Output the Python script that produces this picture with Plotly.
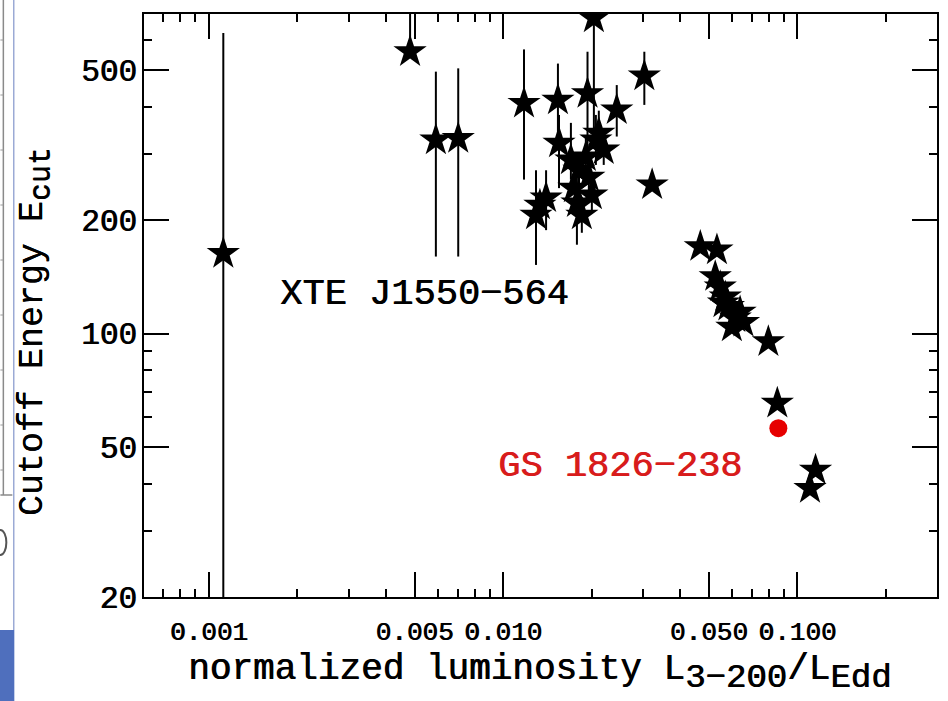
import numpy as np
import plotly.graph_objects as go

# Normalized luminosity L(3-200)/L_Edd and cutoff energy (keV), XTE J1550-564
lum = [0.00112, 0.00483, 0.00591, 0.00704, 0.01178, 0.01536, 0.01549, 0.01936,
       0.02035, 0.02434, 0.0302, 0.0321, 0.01294, 0.0140, 0.01334, 0.0170,
       0.01811, 0.01911, 0.02067, 0.02115, 0.01956, 0.01782, 0.0174, 0.01852,
       0.02198, 0.02003, 0.0468, 0.0533, 0.0526, 0.0547, 0.0569, 0.0583,
       0.0615, 0.0599, 0.0639, 0.0561, 0.0656, 0.0797, 0.0855, 0.1153, 0.1104]
ecut = [163, 559, 326, 329, 408, 416, 320, 433,
        687, 392, 482, 248, 206, 229, 219, 288.5,
        271, 294, 326, 340, 260, 222, 243, 206,
        307, 233, 170, 166.5, 141.5, 133, 125, 118,
        110, 104, 114, 120.5, 107, 95.1, 65.3, 43.4, 38.8]
# upper / lower ends of the error bars (keV)
ecut_hi = [627, 900, 495, 505, 567, 520, 380, 559,
           900, 456, 559, 248, 271, 271, 219, 362,
           300, 330, 380, 390, 290, 260, 243, 230,
           340, 260, 170, 166.5, 141.5, 133, 125, 118,
           110, 104, 114, 120.5, 107, 95.1, 65.3, 43.4, 38.8]
ecut_lo = [5, 559, 160, 160, 256, 330, 243, 280,
           320, 333, 404, 248, 152, 188, 219, 256,
           240, 260, 280, 300, 230, 172, 243, 185,
           280, 210, 170, 166.5, 141.5, 133, 125, 118,
           110, 104, 114, 120.5, 107, 95.1, 65.3, 43.4, 38.8]

# GS 1826-238
gs_lum = [0.0862]
gs_ecut = [56.1]

x_major = [0.001, 0.005, 0.01, 0.05, 0.1]
x_major_text = ["0.001", "0.005", "0.010", "0.050", "0.100"]
x_minor = [0.0007, 0.0008, 0.0009, 0.002, 0.003, 0.004, 0.006, 0.007, 0.008,
           0.009, 0.02, 0.03, 0.04, 0.06, 0.07, 0.08, 0.09, 0.2]
y_major = [20, 50, 100, 200, 500]
y_major_text = ["20", "50", "100", "200", "500"]
y_minor = [30, 40, 60, 70, 80, 90, 300, 400, 600]

FONT = "Liberation Mono"
# a slight horizontal shadow gives the strokes a heavier, plotter-like look
THICK_BLACK = "0.8px 0 0 black"
THICK_RED = "0.8px 0 0 #d81c1c"

err_plus = [h - v for h, v in zip(ecut_hi, ecut)]
err_minus = [v - l for v, l in zip(ecut, ecut_lo)]

fig = go.Figure()
fig.add_trace(go.Scatter(
    x=lum, y=ecut, mode="markers",
    marker=dict(symbol="star", size=25, color="black", line=dict(width=0)),
    error_y=dict(type="data", array=err_plus, arrayminus=err_minus,
                 symmetric=False, thickness=2, width=0, color="black"),
    showlegend=False,
))
fig.add_trace(go.Scatter(
    x=gs_lum, y=gs_ecut, mode="markers",
    marker=dict(symbol="circle", size=18, color="#e60000", line=dict(width=0)),
    showlegend=False,
))

axis_common = dict(
    type="log", showgrid=False, zeroline=False,
    showline=True, linecolor="black", linewidth=2, mirror="ticks",
    ticks="inside", ticklen=25, tickwidth=2, tickcolor="black",
)
fig.update_xaxes(
    **axis_common,
    range=[-3.2203, -0.5254],
    tickmode="array", tickvals=x_major, ticktext=x_major_text,
    tickfont=dict(family=FONT, size=26, color="black", shadow=THICK_BLACK),
    minor=dict(tickvals=x_minor, ticks="inside", ticklen=8, tickwidth=2,
               tickcolor="black", showgrid=False),
    ticklabelstandoff=10,
)
fig.update_yaxes(
    **axis_common,
    range=[np.log10(20), 2.8475],
    tickmode="array", tickvals=y_major, ticktext=y_major_text,
    tickfont=dict(family=FONT, size=31, color="black", shadow=THICK_BLACK),
    minor=dict(tickvals=y_minor, ticks="inside", ticklen=8, tickwidth=2,
               tickcolor="black", showgrid=False),
    ticklabelstandoff=-1,
)


def sub(s, size):
    return '<sub><span style="font-size:%dpx">%s</span></sub>' % (size, s)


annotations = [
    dict(x=np.log10(0.001714), y=np.log10(127.3), xref="x", yref="y",
         text="XTE J1550\u2212564", showarrow=False, xanchor="left", yanchor="middle",
         font=dict(family=FONT, size=37, color="black", shadow=THICK_BLACK)),
    dict(x=np.log10(0.00947), y=np.log10(44.5), xref="x", yref="y",
         text="GS 1826\u2212238", showarrow=False, xanchor="left", yanchor="middle",
         font=dict(family=FONT, size=37, color="#d81c1c", shadow=THICK_RED)),
    dict(x=0.4985, y=-0.13, xref="paper", yref="paper",
         text="normalized luminosity L" + sub("3\u2212200", 34) + "/L" + sub("Edd", 34),
         showarrow=False, xanchor="center", yanchor="middle",
         font=dict(family=FONT, size=36, color="black", shadow=THICK_BLACK)),
    dict(x=-0.137, y=0.455, xref="paper", yref="paper",
         text="Cutoff Energy E" + sub("cut", 30), textangle=-90,
         showarrow=False, xanchor="center", yanchor="middle",
         font=dict(family=FONT, size=35, color="black", shadow="0 0.8px 0 black")),
]


# strip of the neighbouring panel along the left edge
def px_x(p):
    return (p - 144) / 795.0


def px_y(p):
    return (597 - p) / 583.0


shapes = [
    dict(type="rect", xref="paper", yref="paper",
         x0=px_x(-2), x1=px_x(14), y0=px_y(703), y1=px_y(630),
         fillcolor="#4f6fbd", line=dict(width=0), layer="above"),
    dict(type="line", xref="paper", yref="paper",
         x0=px_x(13.5), x1=px_x(13.5), y0=px_y(0), y1=px_y(630),
         line=dict(color="#6a80c0", width=1)),
    dict(type="line", xref="paper", yref="paper",
         x0=px_x(3), x1=px_x(3), y0=px_y(0), y1=px_y(495),
         line=dict(color="#8a8a8a", width=1.5)),
    dict(type="line", xref="paper", yref="paper",
         x0=px_x(0), x1=px_x(12), y0=px_y(495), y1=px_y(495),
         line=dict(color="#8a8a8a", width=1.5)),
    dict(type="circle", xref="paper", yref="paper",
         x0=px_x(-6), x1=px_x(6), y0=px_y(555), y1=px_y(530),
         line=dict(color="#555555", width=2)),
]
for ty in [40, 95, 150, 205, 260, 315, 370, 425, 470]:
    shapes.append(dict(type="line", xref="paper", yref="paper",
                       x0=px_x(0), x1=px_x(3), y0=px_y(ty), y1=px_y(ty),
                       line=dict(color="#9a9a9a", width=1)))

fig.update_layout(
    width=948, height=701,
    margin=dict(l=144, r=9, t=14, b=104),
    paper_bgcolor="white", plot_bgcolor="white",
    annotations=annotations, shapes=shapes,
    font=dict(family=FONT, color="black"),
)

fig.write_html("out.html")
